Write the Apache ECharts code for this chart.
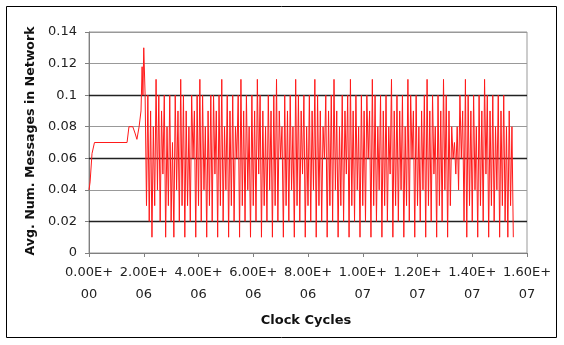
<!DOCTYPE html>
<html>
<head>
<meta charset="utf-8">
<script src="https://cdn.jsdelivr.net/npm/echarts@6/dist/echarts.min.js"></script>
<style>html,body{margin:0;padding:0;background:#fff;}#chart{width:564px;height:345px;}</style>
</head>
<body>
<div id="chart"></div>
<script>
// ---- data ----
const yTickValues = [0, 0.02, 0.04, 0.06, 0.08, 0.1, 0.12, 0.14];
const xTickLabels = ['0.00E+\n00','2.00E+\n06','4.00E+\n06','6.00E+\n06','8.00E+\n06','1.00E+\n07','1.20E+\n07','1.40E+\n07','1.60E+\n07'];
const xTitle = 'Clock Cycles';
const yTitle = 'Avg. Num. Messages in Network';
const darkGridValues = [0.02, 0.06, 0.1];

// warm-up segment (cycle, value)
const earlyCycles = [0, 40000, 110000, 200000, 1390000, 1460000, 1600000, 1680000, 1750000, 1830000, 1900000, 1940000, 1970000, 2000000, 2050000];
const earlyValues = [0.04, 0.045, 0.063, 0.07, 0.07, 0.08, 0.08, 0.076, 0.072, 0.08, 0.09, 0.118, 0.1, 0.13, 0.1];

// steady-state samples, one every 5e4 cycles from 2.1e6
const steadyStart = 2100000;
const steadyStep = 50000;
const steadyValues = [
  0.03,0.10,0.02,0.09,0.01,0.08,0.03,0.11,0.04,0.10,
  0.02,0.09,0.05,0.10,0.01,0.08,0.03,0.10,0.02,0.07,
  0.01,0.10,0.04,0.09,0.02,0.11,0.03,0.10,0.01,0.09,
  0.03,0.08,0.02,0.10,0.06,0.09,0.01,0.10,0.03,0.11,
  0.02,0.10,0.04,0.08,0.01,0.09,0.03,0.10,0.02,0.10,
  0.05,0.09,0.01,0.10,0.03,0.11,0.02,0.08,0.04,0.10,
  0.01,0.09,0.03,0.10,0.02,0.08,0.06,0.10,0.01,0.11,
  0.03,0.09,0.02,0.10,0.04,0.08,0.01,0.10,0.03,0.09,
  0.02,0.11,0.05,0.10,0.01,0.09,0.03,0.08,0.02,0.10,
  0.04,0.09,0.01,0.10,0.03,0.11,0.02,0.09,0.06,0.08,
  0.01,0.10,0.03,0.09,0.02,0.10,0.04,0.08,0.01,0.11,
  0.03,0.10,0.02,0.09,0.05,0.10,0.01,0.08,0.03,0.10,
  0.02,0.09,0.04,0.11,0.01,0.10,0.03,0.09,0.02,0.08,
  0.06,0.10,0.01,0.09,0.03,0.10,0.02,0.11,0.04,0.09,
  0.01,0.08,0.03,0.10,0.02,0.09,0.05,0.10,0.01,0.11,
  0.03,0.09,0.02,0.10,0.04,0.08,0.01,0.10,0.03,0.09,
  0.02,0.10,0.06,0.09,0.01,0.11,0.03,0.10,0.02,0.08,
  0.04,0.10,0.01,0.09,0.03,0.10,0.02,0.08,0.05,0.11,
  0.01,0.09,0.03,0.10,0.02,0.09,0.04,0.10,0.01,0.08,
  0.03,0.11,0.02,0.10,0.06,0.09,0.01,0.10,0.03,0.08,
  0.02,0.09,0.04,0.10,0.01,0.11,0.03,0.09,0.02,0.10,
  0.05,0.08,0.01,0.10,0.03,0.09,0.02,0.11,0.04,0.10,
  0.01,0.09,0.03,0.08,0.06,0.07,0.05,0.08,0.04,0.10,
  0.06,0.09,0.02,0.11,0.01,0.10,0.03,0.09,0.02,0.10,
  0.04,0.08,0.01,0.10,0.03,0.09,0.02,0.11,0.05,0.10,
  0.01,0.09,0.03,0.10,0.02,0.08,0.04,0.10,0.01,0.09,
  0.03,0.10,0.02,0.08,0.01,0.09,0.03,0.08,0.01
];

const seriesData = earlyCycles.map((c, i) => [c, earlyValues[i]])
  .concat(steadyValues.map((v, i) => [steadyStart + i * steadyStep, v]));

const chart = echarts.init(document.getElementById('chart'), null, {renderer: 'canvas'});
const labelFont = 'DejaVu Sans';
chart.setOption({
  animation: false,
  backgroundColor: '#fff',
  grid: {left: 89, right: 37, top: 32, bottom: 92, show: true, backgroundColor: '#fff', borderColor: '#999', borderWidth: 1},
  xAxis: {
    type: 'value', min: 0, max: 16000000, interval: 2000000,
    axisLine: {show: true, lineStyle: {color: '#808080', width: 1}},
    axisTick: {show: true, inside: false, length: 4, lineStyle: {color: '#808080'}},
    splitLine: {show: false},
    axisLabel: {
      margin: 9, fontFamily: labelFont, fontSize: 13, color: '#222', lineHeight: 22, align: 'center',
      formatter: v => xTickLabels[Math.round(v / 2000000)] || ''
    }
  },
  yAxis: {
    type: 'value', min: 0, max: 0.14, interval: 0.02,
    axisLine: {show: true, lineStyle: {color: '#808080', width: 1}},
    axisTick: {show: true, inside: false, length: 4, lineStyle: {color: '#808080'}},
    splitLine: {show: true, lineStyle: {color: '#999', width: 1}},
    axisLabel: {
      margin: 12, fontFamily: labelFont, fontSize: 13, color: '#222',
      formatter: v => {
        const t = yTickValues.find(x => Math.abs(x - v) < 1e-9);
        return String(t === undefined ? v : t);
      }
    }
  },
  series: [{
    type: 'line',
    data: seriesData,
    showSymbol: false,
    symbol: 'none',
    sampling: null,
    lineStyle: {color: '#ff1a1a', width: 1},
    z: 3,
    markLine: {
      silent: true, symbol: 'none', label: {show: false}, z: 2,
      lineStyle: {color: '#222', width: 1.3, type: 'solid'},
      data: darkGridValues.map(v => ({yAxis: v}))
    }
  }],
  graphic: [
    {type: 'rect', shape: {x: 6.5, y: 6.5, width: 550, height: 331}, style: {fill: 'none', stroke: '#000', lineWidth: 1}, silent: true, z: -1},
    {type: 'text', x: 306, y: 321, style: {text: xTitle, font: 'bold 13px "DejaVu Sans"', fill: '#111', textAlign: 'center', textVerticalAlign: 'middle'}},
    {type: 'text', x: 31, y: 141, rotation: Math.PI / 2, style: {text: yTitle, font: 'bold 12.6px "DejaVu Sans"', fill: '#111', textAlign: 'center', textVerticalAlign: 'middle'}}
  ]
});
</script>
</body>
</html>
